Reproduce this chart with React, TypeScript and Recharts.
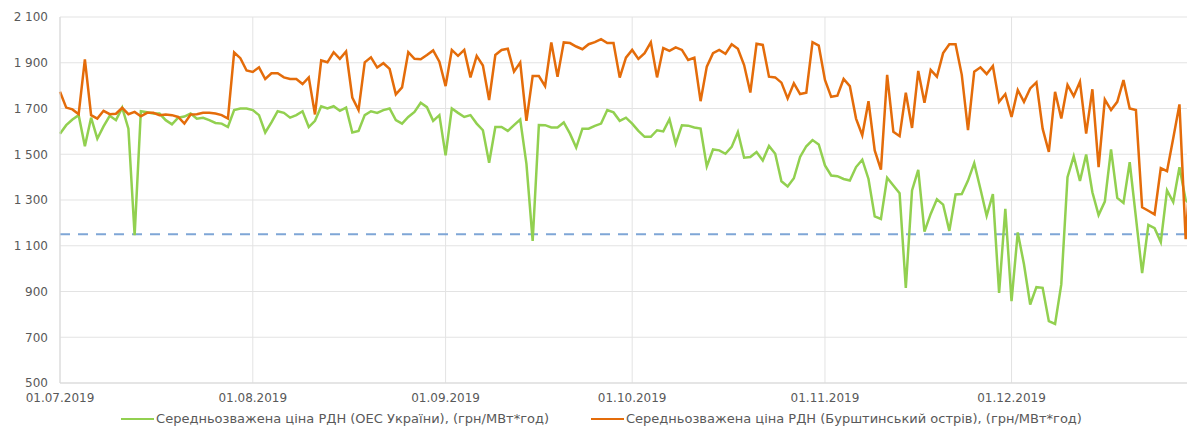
import React from 'react';
import { LineChart, Line, XAxis, YAxis, CartesianGrid, Legend, ReferenceLine } from 'recharts';

// daily prices, 01.07.2019 onward (грн/МВт*год)
const uesPrices = [
  1590, 1627, 1652, 1671, 1535, 1660, 1568, 1622, 1668, 1649, 1704, 1612, 1146, 1688, 1684, 1678,
  1678, 1649, 1631, 1660, 1665, 1678, 1655, 1659, 1649, 1637, 1634, 1619, 1693, 1700, 1700,
  1693, 1671, 1595, 1639, 1688, 1681, 1660, 1671, 1688, 1619, 1646, 1710, 1700, 1710, 1690, 1704,
  1595, 1602, 1671, 1688, 1681, 1693, 1700, 1649, 1634, 1663, 1685, 1725, 1706, 1646, 1671,
  1495, 1700, 1681, 1663, 1671, 1634, 1605, 1463, 1619, 1619, 1602, 1627, 1652, 1458, 1121,
  1628, 1627, 1617, 1617, 1639, 1590, 1529, 1612, 1612, 1624, 1634, 1693, 1683, 1646, 1660,
  1634, 1602, 1576, 1576, 1605, 1600, 1653, 1546, 1627, 1625, 1617, 1612, 1447, 1521, 1517, 1502,
  1532, 1597, 1485, 1488, 1510, 1473, 1536, 1502, 1382, 1359, 1395, 1488, 1535,
  1562, 1543, 1451, 1407, 1404, 1392, 1385, 1444, 1476, 1392, 1228, 1217, 1397, 1363, 1330, 916,
  1342, 1432, 1162, 1239, 1303, 1280, 1165, 1324, 1326, 1385, 1461, 1348, 1231, 1326, 894, 1261,
  858, 1158, 1019, 843, 919, 916, 770, 758, 931, 1400, 1491, 1383, 1499, 1334, 1234, 1293, 1521,
  1309, 1287, 1465, 1224, 980, 1191, 1177, 1116, 1342, 1291, 1443, 1300, 1270,
];

const burshtynPrices = [
  1773, 1704, 1696, 1675, 1915, 1671, 1656, 1690, 1675, 1677, 1703, 1675, 1685, 1666, 1681, 1681,
  1671, 1674, 1671, 1663, 1634, 1674, 1675, 1681, 1681, 1678, 1671, 1656, 1945, 1920, 1866,
  1860, 1880, 1829, 1854, 1854, 1836, 1829, 1829, 1807, 1836, 1674, 1910, 1902, 1946, 1917, 1949,
  1748, 1693, 1902, 1924, 1879, 1898, 1873, 1762, 1792, 1946, 1917, 1915, 1934, 1954, 1905,
  1798, 1956, 1930, 1956, 1836, 1930, 1888, 1737, 1934, 1956, 1961, 1861, 1901, 1646, 1842,
  1842, 1798, 1989, 1839, 1989, 1986, 1971, 1959, 1981, 1990, 2003, 1986, 1986, 1835, 1922,
  1956, 1917, 1942, 1989, 1836, 1964, 1952, 1967, 1956, 1912, 1922, 1732, 1883, 1942, 1956, 1939,
  1981, 1961, 1890, 1770, 1983, 1978, 1839, 1836, 1813, 1744, 1810, 1763, 1769,
  1990, 1975, 1825, 1751, 1756, 1829, 1798, 1656, 1583, 1732, 1517, 1433, 1847, 1598, 1579, 1769,
  1615, 1864, 1725, 1869, 1839, 1942, 1981, 1981, 1847, 1605, 1861, 1880, 1851, 1886, 1729, 1763,
  1663, 1781, 1729, 1788, 1814, 1612, 1510, 1773, 1656, 1803, 1754, 1817, 1590, 1784, 1444, 1739,
  1693, 1729, 1824, 1700, 1693, 1268, 1253, 1237, 1439, 1426, 1570, 1718, 1129, 1530,
];

const monthStartDays = [0, 31, 62, 92, 123, 153];
const monthLabels = ['01.07.2019', '01.08.2019', '01.09.2019', '01.10.2019', '01.11.2019', '01.12.2019'];
const yTicks = [500, 700, 900, 1100, 1300, 1500, 1700, 1900, 2100];
const thresholdPrice = 1150;

const seriesInfo = [
  { key: 'ues', name: 'Середньозважена ціна РДН (ОЕС України), (грн/МВт*год)', color: '#92D050' },
  { key: 'burshtyn', name: 'Середньозважена ціна РДН (Бурштинський острів), (грн/МВт*год)', color: '#E46C0A' },
];

const data = uesPrices.map((v, i) => ({ day: i, ues: v, burshtyn: burshtynPrices[i] }));

const formatThousands = (n: number) =>
  n >= 1000 ? `${Math.floor(n / 1000)} ${String(n % 1000).padStart(3, '0')}` : String(n);

const formatDay = (d: number) => {
  const idx = monthStartDays.indexOf(d);
  return idx >= 0 ? monthLabels[idx] : '';
};

const tickStyle = { fill: '#595959', fontSize: 12 };

const LegendContent = () => (
  <div style={{ display: 'flex', justifyContent: 'center', gap: 42, fontSize: 13, color: '#595959' }}>
    {seriesInfo.map((s) => (
      <div key={s.key} style={{ display: 'flex', alignItems: 'center' }}>
        <span style={{ display: 'inline-block', width: 33, height: 2, background: s.color, marginRight: 2 }} />
        <span>{s.name}</span>
      </div>
    ))}
  </div>
);

export default function App() {
  return (
    <div style={{ fontFamily: '"DejaVu Sans", sans-serif' }}>
      <LineChart width={1187} height={421} data={data} margin={{ top: 9, right: 0, left: 0, bottom: 0 }}>
        <CartesianGrid stroke="#e3e3e3" />
        <XAxis
          dataKey="day"
          type="number"
          domain={[0, 182.5]}
          ticks={monthStartDays}
          tickFormatter={formatDay}
          tick={tickStyle}
          tickLine={false}
          axisLine={{ stroke: '#d9d9d9' }}
          tickMargin={4}
          height={28}
          interval={0}
        />
        <YAxis
          domain={[500, 2100]}
          ticks={yTicks}
          tickFormatter={formatThousands}
          tick={tickStyle}
          tickLine={false}
          axisLine={{ stroke: '#d9d9d9' }}
          tickMargin={6}
          width={52}
          interval={0}
        />
        <ReferenceLine y={thresholdPrice} stroke="#7fa6d6" strokeWidth={2} strokeDasharray="10 8" />
        {seriesInfo.map((s) => (
          <Line
            key={s.key}
            type="linear"
            dataKey={s.key}
            name={s.name}
            stroke={s.color}
            strokeWidth={2.5}
            dot={false}
            isAnimationActive={false}
          />
        ))}
        <Legend verticalAlign="bottom" height={18} content={LegendContent} />
      </LineChart>
    </div>
  );
}
